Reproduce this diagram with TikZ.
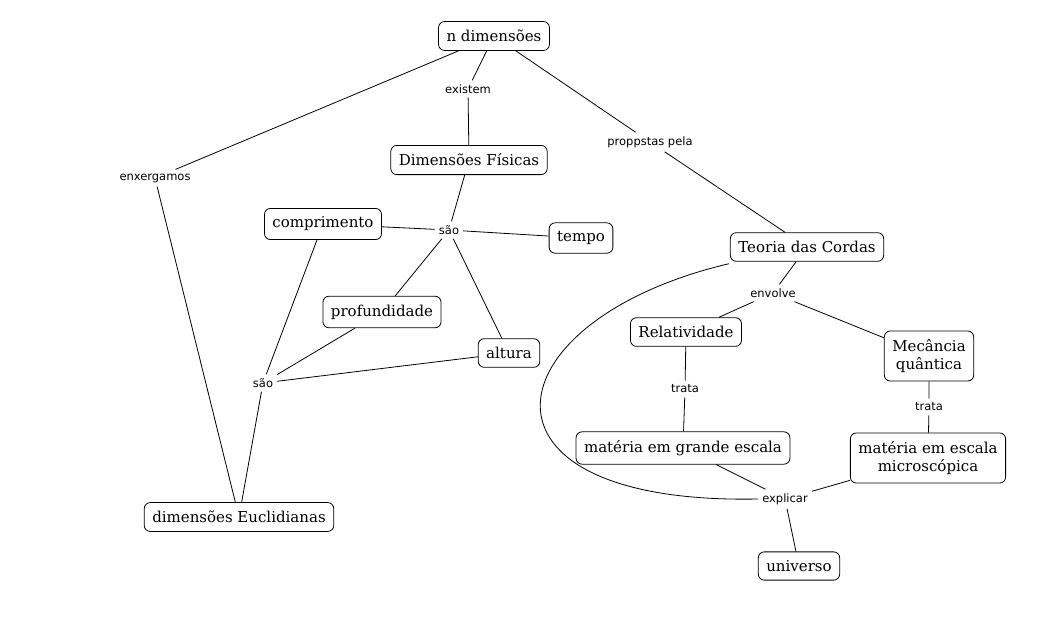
\documentclass[tikz,border=0pt]{standalone}
\usepackage{fontspec}
\newfontfamily\conceptfont{DejaVu Serif}
\newfontfamily\labelfont{DejaVu Sans}
\begin{document}
\begin{tikzpicture}[x=1pt,y=-1pt,
  concept/.style={draw,rounded corners=6pt,line width=0.8pt,inner xsep=8pt,inner ysep=8.5pt,
     font=\conceptfont\fontsize{15}{18}\selectfont,align=center},
  lnk/.style={font=\labelfont\fontsize{11.5}{13}\selectfont,inner sep=4pt},
  conn/.style={line width=0.8pt}]
\useasboundingbox[fill=white] (0,0) rectangle (1037,622);
% concepts
\node[concept] (ndim) at (494,36) {n dimensões};
\node[concept] (dfis) at (469,160) {Dimensões Físicas};
\node[concept] (comp) at (323,224) {comprimento};
\node[concept] (tempo) at (581,238) {tempo};
\node[concept] (prof) at (382,312) {profundidade};
\node[concept] (alt) at (509,353) {altura};
\node[concept] (deuc) at (239,517) {dimensões Euclidianas};
\node[concept] (teoria) at (807,247) {Teoria das Cordas};
\node[concept] (rel) at (686,332) {Relatividade};
\node[concept] (mec) at (929,356) {Mecância\\quântica};
\node[concept] (mge) at (683,448) {matéria em grande escala};
\node[concept] (mem) at (928,458) {matéria em escala\\microscópica};
\node[concept] (univ) at (799,566) {universo};
% linking phrases
\node[lnk] (existem) at (468,89) {existem};
\node[lnk] (propostas) at (650,142) {proppstas pela};
\node[lnk] (enx) at (155,178) {enxergamos};
\node[lnk] (sao1) at (449,230) {são};
\node[lnk] (sao2) at (263,383) {são};
\node[lnk] (envolve) at (773,293) {envolve};
\node[lnk] (trata1) at (685,389) {trata};
\node[lnk] (trata2) at (929,407) {trata};
\node[lnk] (explicar) at (785,499) {explicar};
% connectors
\draw[conn] (ndim) -- (existem) -- (dfis);
\draw[conn] (ndim) -- (propostas) -- (teoria);
\draw[conn] (ndim) -- (enx) -- (deuc);
\draw[conn] (dfis) -- (sao1);
\draw[conn] (sao1) -- (comp);
\draw[conn] (sao1) -- (tempo);
\draw[conn] (sao1) -- (prof);
\draw[conn] (sao1) -- (alt);
\draw[conn] (comp) -- (sao2);
\draw[conn] (prof) -- (sao2);
\draw[conn] (alt) -- (sao2);
\draw[conn] (sao2) -- (deuc);
\draw[conn] (teoria) -- (envolve);
\draw[conn] (envolve) -- (rel);
\draw[conn] (envolve) -- (mec);
\draw[conn] (rel) -- (trata1) -- (mge);
\draw[conn] (mec) -- (trata2) -- (mem);
\draw[conn] (mge) -- (explicar);
\draw[conn] (mem) -- (explicar);
\draw[conn] (explicar) -- (univ);
\draw[conn] ([xshift=-1pt,yshift=-2pt]teoria.south west) .. controls (490,320) and (455,505) .. (explicar.west);
\end{tikzpicture}
\end{document}
